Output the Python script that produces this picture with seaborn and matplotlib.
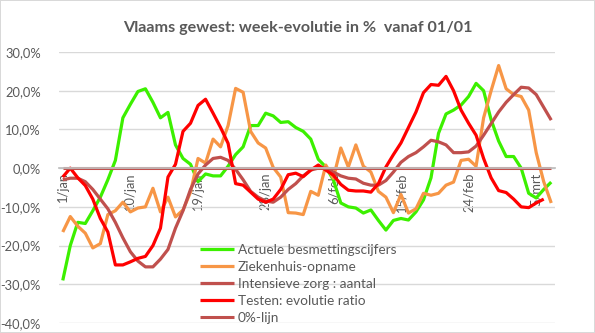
import numpy as np
import pandas as pd
import matplotlib
matplotlib.use("Agg")
import matplotlib.pyplot as plt
import seaborn as sns

# ---- data (week-evolutie in %, one value per day from 1/jan) ----
days = ["1/jan", "10/jan", "19/jan", "28/jan", "6/feb", "15/feb", "24/feb", "5/mrt"]

besmettingen = [-29, -20, -14, -14.3, -11, -7.5, -3, 2, 13, 16.5, 19.8, 20.5, 17, 13, 14.4,
                6, 2.5, 1, -3.5, -1.5, -2, -2, 0.5, 3.5, 5.5, 11, 11, 14.2, 13.5, 11.8,
                12, 10.5, 9.5, 7.5, 2.3, 0.3, -3, -9, -10, -10.3, -11.6, -10.8, -13.5, -16, -13.5,
                -13, -13.4, -11.3, -8.2, -2.5, 9, 14, 15, 16.3, 18.5, 21.9, 20, 12.5, 7, 3,
                3, 0, -6.5, -7.7, -5.5, -3.6]

ziekenhuis = [-16.5, -12.5, -15, -16.8, -20.6, -19.5, -12, -11, -8.8, -11.3, -10.3, -10, -5.2, -11.3, -7.5,
              -12.6, -10.8, -6.2, 2.5, 1.3, 7.5, 5.5, 11, 20.6, 19.6, 9.5, 6.5, 5.2, 0.2, -2.3,
              -11.5, -11.6, -12, -6, -7, 0.8, -2.6, 5.2, 0.3, 6, 0.5, -1, -6, -7.5, -11.5,
              -6.8, -11.6, -10.5, -6.5, -7, -6.5, -4.4, -3.6, 2, 2.3, 0.5, 13, 20, 26.5, 20.5,
              19, 18.5, 15, 4, -3.5, -9]

intensieve_zorg = [-3, -2.6, -2.6, -3.5, -5.5, -8, -10.5, -14, -18, -21.6, -24, -25.5, -25.5, -23.5, -21,
                   -15.5, -11, -5.5, -1.5, 0.8, 2.5, 2.8, 2, -0.3, -3, -6, -7.5, -8.5, -8.8, -7.5,
                   -5.5, -4, -2, -0.5, 0, 0, -1, -2, -2.6, -2.8, -3.9, -4.4, -4.4, -3.2, -1,
                   1.5, 3, 4, 5.5, 7.2, 6.8, 6, 4, 4, 4.2, 5.7, 8.5, 11.5, 14.5, 17,
                   19, 20.9, 20.7, 19, 15.7, 12.4]

testen = [-2.3, 0, -2.5, -4.5, -8, -13, -16.5, -25, -25, -24.2, -23.3, -22.8, -20, -15.5, -2.3,
          1, 9.5, 11.6, 16.2, 17.8, 14.2, 10.5, 6.4, -4, -4.4, -6.2, -8, -8.8, -8, -5.5,
          -1.7, -1.3, -2.2, -0.5, 0.8, -0.5, -1.8, -4.2, -5.7, -5.9, -5.9, -6.2, -4, 0.3, 3.5,
          6.5, 10.5, 14.5, 19.5, 21.6, 21.4, 23.7, 20, 15, 11.6, 8.5, 2.5, -2.5, -5.8, -6.3,
          -8, -10, -10.2, -9, -8]

nul_lijn = [0] * 66

series_names = ["Actuele besmettingscijfers", "Ziekenhuis-opname",
                "Intensieve zorg : aantal", "Testen: evolutie ratio", "0%-lijn"]
series_values = [besmettingen, ziekenhuis, intensieve_zorg, testen, nul_lijn]
colors = ["#3cf000", "#f79646", "#c0504d", "#ff0000", "#c0504d"]
widths = [2.3, 2.3, 2.3, 2.3, 2.2]

yticks = [-40, -30, -20, -10, 0, 10, 20, 30]

# ---- style ----
sns.set_theme(style="white")
plt.rcParams["font.family"] = ["Lato", "DejaVu Sans"]
grey_txt = "#595959"

fig = plt.figure(figsize=(5.95, 3.33), dpi=100, facecolor="white",
                 edgecolor="#d9d9d9", linewidth=1.2)
ax = fig.add_axes([59 / 595, 10 / 333, 496 / 595, 271 / 333])

for name, vals, c, w in zip(series_names, series_values, colors, widths):
    df = pd.DataFrame({"dag": np.arange(len(vals)), "waarde": vals})
    sns.lineplot(data=df, x="dag", y="waarde", ax=ax, color=c, linewidth=w,
                 label=name, solid_capstyle="butt")

ax.set_xlim(-0.5, 65.5)
ax.set_ylim(-40, 30)
ax.set_yticks(yticks)
ax.set_yticklabels([f"{v:.1f}%".replace(".", ",") for v in yticks],
                   fontsize=9.3, color=grey_txt)
ax.yaxis.grid(True, color="#d9d9d9", linewidth=1)
ax.xaxis.grid(False)
ax.tick_params(axis="y", length=0, pad=13)
ax.set_xlabel("")
ax.set_ylabel("")

for s in ["top", "right", "left"]:
    ax.spines[s].set_visible(False)
ax.spines["bottom"].set_position(("data", 0))
ax.spines["bottom"].set_color("#bfbfbf")

# tick marks between categories, labels at category centres
ax.set_xticks(np.arange(-0.5, 66, 9))
ax.set_xticklabels([])
ax.set_xticks(np.arange(0, 66, 9), minor=True)
ax.set_xticklabels(days, minor=True, rotation=90, fontsize=9.3, color=grey_txt)
ax.tick_params(axis="x", which="major", length=4, color="#bfbfbf", direction="out")
ax.tick_params(axis="x", which="minor", length=0, pad=3)

fig.text(0.5, 1 - 28 / 333, "Vlaams gewest: week-evolutie in %  vanaf 01/01",
         ha="center", va="center", fontsize=11.6, fontweight="bold", color=grey_txt)

leg = ax.legend(loc="upper left", bbox_to_anchor=(200 / 595, 1 - 244 / 333),
                bbox_transform=fig.transFigure, frameon=False, fontsize=9.8,
                handlelength=2.5, handletextpad=0.3, labelspacing=0.36,
                borderpad=0, borderaxespad=0)
for t in leg.get_texts():
    t.set_color(grey_txt)

fig.savefig("out.png", dpi=100, facecolor="white", edgecolor=fig.get_edgecolor())
